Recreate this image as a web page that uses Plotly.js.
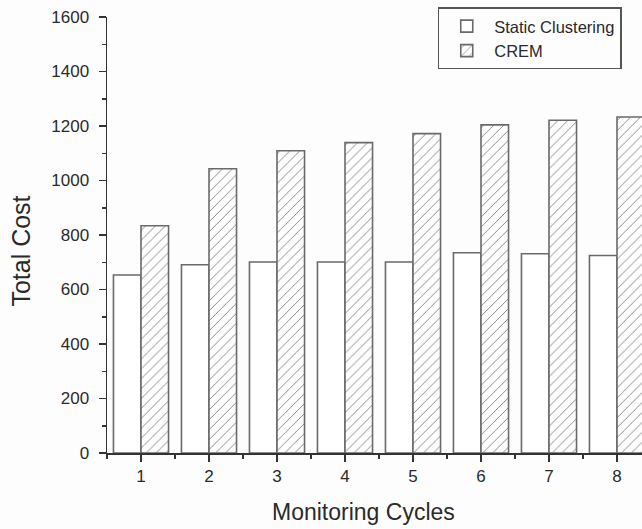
<!DOCTYPE html>
<html>
<head>
<meta charset="utf-8">
<script src="https://cdn.plot.ly/plotly-3.0.1.min.js"></script>
<style>
html,body{margin:0;padding:0;overflow:hidden;background:#fdfdfd;}
#chart{width:700px;height:529px;}
</style>
</head>
<body>
<div id="chart"></div>
<script>
const cycles = [1, 2, 3, 4, 5, 6, 7, 8];
const staticClustering = [653, 691, 701, 701, 701, 735, 731, 725];
const crem = [834, 1043, 1109, 1139, 1172, 1204, 1221, 1233];
const yTicks = [0, 200, 400, 600, 800, 1000, 1200, 1400, 1600];
const seriesNames = ["Static Clustering", "CREM"];

const font = "Liberation Sans, Arial, sans-serif";
const edge = "#6a6a6a";

const traces = [
  {
    type: "bar", name: seriesNames[0], x: cycles, y: staticClustering,
    marker: {color: "#ffffff", line: {color: edge, width: 1.6}}
  },
  {
    type: "bar", name: seriesNames[1], x: cycles, y: crem,
    marker: {color: "#ffffff", line: {color: edge, width: 1.6},
      pattern: {shape: "/", fgcolor: "#8a8a8a", bgcolor: "#ffffff", size: 7, solidity: 0.14}}
  }
];

const axisCommon = {
  showline: true, linecolor: "#333", linewidth: 1.5,
  showgrid: false, zeroline: false,
  ticks: "outside", ticklen: 7, tickwidth: 1.5, tickcolor: "#333",
  tickfont: {family: font, size: 17, color: "#2a2a2a"}
};

const layout = {
  width: 700, height: 529,
  margin: {l: 107, r: 49, t: 17, b: 76, autoexpand: false},
  paper_bgcolor: "#fdfdfd", plot_bgcolor: "#fdfdfd",
  barmode: "group", bargap: 0.19, bargroupgap: 0,
  showlegend: true,
  legend: {
    x: 0.608, y: 1.022, xanchor: "left", yanchor: "top",
    bordercolor: "#555", borderwidth: 1.5, bgcolor: "#fdfdfd",
    font: {family: font, size: 16.5, color: "#2a2a2a"},
    itemwidth: 45, tracegroupgap: 0
  },
  xaxis: Object.assign({}, axisCommon, {
    range: [0.5, 8.5], tickmode: "array", tickvals: cycles, ticktext: cycles.map(String),
    minor: {dtick: 0.5, tick0: 0.5, ticks: "outside", ticklen: 4, tickwidth: 1.5, tickcolor: "#333"}
  }),
  yaxis: Object.assign({}, axisCommon, {
    range: [0, 1600], tickmode: "array", tickvals: yTicks, ticktext: yTicks.map(String),
    ticklabelstandoff: 6,
    minor: {dtick: 100, tick0: 0, ticks: "outside", ticklen: 4, tickwidth: 1.5, tickcolor: "#333"}
  }),
  annotations: [
    {text: "Total Cost", xref: "paper", yref: "paper", x: -0.158, y: 0.462,
     xanchor: "center", yanchor: "middle", textangle: -90, showarrow: false,
     font: {family: font, size: 25, color: "#2a2a2a"}},
    {text: "Monitoring Cycles", xref: "paper", yref: "paper", x: 0.4724, y: -0.1346,
     xanchor: "center", yanchor: "middle", showarrow: false,
     font: {family: font, size: 23, color: "#2a2a2a"}}
  ]
};

Plotly.newPlot("chart", traces, layout, {displayModeBar: false, staticPlot: true});
</script>
</body>
</html>
